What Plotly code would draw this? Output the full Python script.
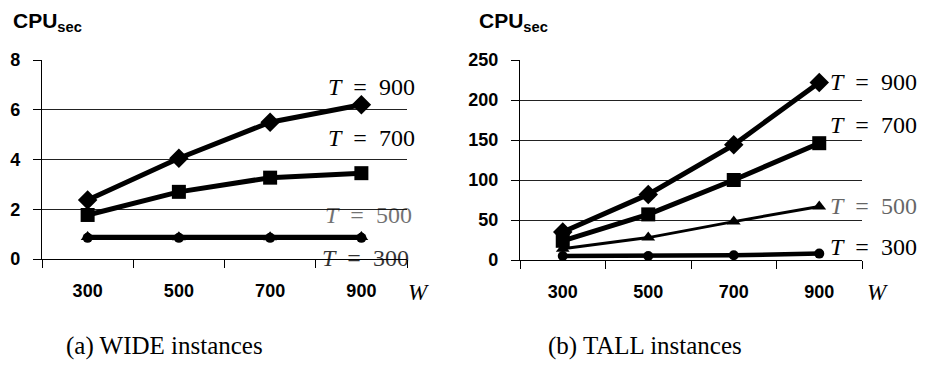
import plotly.graph_objects as go
from plotly.subplots import make_subplots

W_labels = ["300", "500", "700", "900"]

# (a) WIDE instances
wide_T900 = [2.37, 4.05, 5.5, 6.2]
wide_T700 = [1.77, 2.7, 3.27, 3.45]
wide_T500 = [0.88, 0.87, 0.87, 0.88]
wide_T300 = [0.85, 0.85, 0.85, 0.85]

# (b) TALL instances
tall_T900 = [35, 82, 144, 222]
tall_T700 = [24, 57, 100, 146]
tall_T500 = [14, 28, 48, 67]
tall_T300 = [5, 5, 6, 8]

wide_yticks = [0, 2, 4, 6, 8]
tall_yticks = [0, 50, 100, 150, 200, 250]

fig = make_subplots(rows=1, cols=2, horizontal_spacing=0.138)

def add_series(col, t900, t700, t500, t300):
    fig.add_trace(go.Scatter(x=W_labels, y=t300, mode="lines+markers",
                             line=dict(color="black", width=4.5),
                             marker=dict(symbol="circle", size=10, color="black")), row=1, col=col)
    fig.add_trace(go.Scatter(x=W_labels, y=t500, mode="lines+markers",
                             line=dict(color="black", width=3 if col == 2 else 4.5),
                             marker=dict(symbol="triangle-up", size=12, color="black")), row=1, col=col)
    fig.add_trace(go.Scatter(x=W_labels, y=t700, mode="lines+markers",
                             line=dict(color="black", width=5),
                             marker=dict(symbol="square", size=14, color="black")), row=1, col=col)
    fig.add_trace(go.Scatter(x=W_labels, y=t900, mode="lines+markers",
                             line=dict(color="black", width=5),
                             marker=dict(symbol="diamond", size=15, color="black")), row=1, col=col)

add_series(1, wide_T900, wide_T700, wide_T500, wide_T300)
add_series(2, tall_T900, tall_T700, tall_T500, tall_T300)

tickfont = dict(family="Liberation Sans, Arial, sans-serif", size=18, color="black", weight="bold")

fig.update_xaxes(type="category", tickson="boundaries", ticks="outside", ticklen=8, automargin=False,
                 tickcolor="black", tickwidth=1.3, showline=True, linecolor="black", linewidth=1.3,
                 showgrid=False, tickfont=tickfont, ticklabelstandoff=15, range=[-0.5, 3.5])
fig.update_yaxes(ticks="outside", ticklen=8, tickcolor="black", tickwidth=1.3, automargin=False,
                 showline=True, linecolor="black", linewidth=1.3,
                 showgrid=True, gridcolor="#222222", gridwidth=1.3, zeroline=False,
                 tickfont=tickfont, ticklabelstandoff=9)
fig.update_yaxes(range=[0, 8], tickvals=wide_yticks, row=1, col=1)
fig.update_yaxes(range=[0, 250], tickvals=tall_yticks, row=1, col=2)

serif = "Liberation Serif, Times New Roman, serif"
def tlabel(val):
    return "<i>T</i>\u00a0\u00a0=\u00a0\u00a0" + val

# page has an 8px body margin; keep the figure inside the window (no scrollbars)
OFF = 8
W, H = 929 - 2 * OFF, 374 - 2 * OFF
l, t = 42 - OFF, 60 - OFF
r = W - (862 - OFF)
b = H - (260 - OFF)
pw, ph = W - l - r, H - t - b
def px(x):
    return (x - OFF - l) / pw
def py(y):
    return 1 - (y - OFF - t) / ph

# subplot domains from page pixels
fig.update_layout(xaxis=dict(domain=[px(42), px(407)]), xaxis2=dict(domain=[px(520), px(862)]),
                  yaxis=dict(domain=[py(259), py(60)]), yaxis2=dict(domain=[0, 1]))

annots = []
for x, y, txt, op in [(417, 87, "900", 1), (417, 138, "700", 1), (414, 215, "500", 0.55), (411, 258, "300", 0.8),
                      (919, 82, "900", 1), (919, 125, "700", 1), (919, 206, "500", 0.6), (919, 247, "300", 1)]:
    annots.append(dict(x=px(x), y=py(y), xref="paper", yref="paper", text=tlabel(txt), showarrow=False,
                       font=dict(family=serif, size=24, color="black"), xanchor="right", yanchor="middle",
                       opacity=op))

for x in [418, 877]:
    annots.append(dict(x=px(x), y=py(292), xref="paper", yref="paper", text="<i>W</i>", showarrow=False,
                       font=dict(family=serif, size=23, color="black"), xanchor="center", yanchor="middle"))

for x in [11, 477]:
    annots.append(dict(x=px(x), y=py(22), xref="paper", yref="paper", text="<b>CPU<sub>sec</sub></b>",
                       showarrow=False, font=dict(family="Liberation Sans, Arial, sans-serif", size=21, color="black"),
                       xanchor="left", yanchor="middle"))

annots.append(dict(x=px(164), y=py(346), xref="paper", yref="paper", text="(a) WIDE instances", showarrow=False,
                   font=dict(family=serif, size=25, color="black"), xanchor="center", yanchor="middle"))
annots.append(dict(x=px(645), y=py(346), xref="paper", yref="paper", text="(b) TALL instances", showarrow=False,
                   font=dict(family=serif, size=25, color="black"), xanchor="center", yanchor="middle"))

fig.update_layout(width=W, height=H, margin=dict(l=l, r=r, t=t, b=b), showlegend=False,
                  paper_bgcolor="white", plot_bgcolor="white", annotations=annots)

fig.write_html("out.html")
